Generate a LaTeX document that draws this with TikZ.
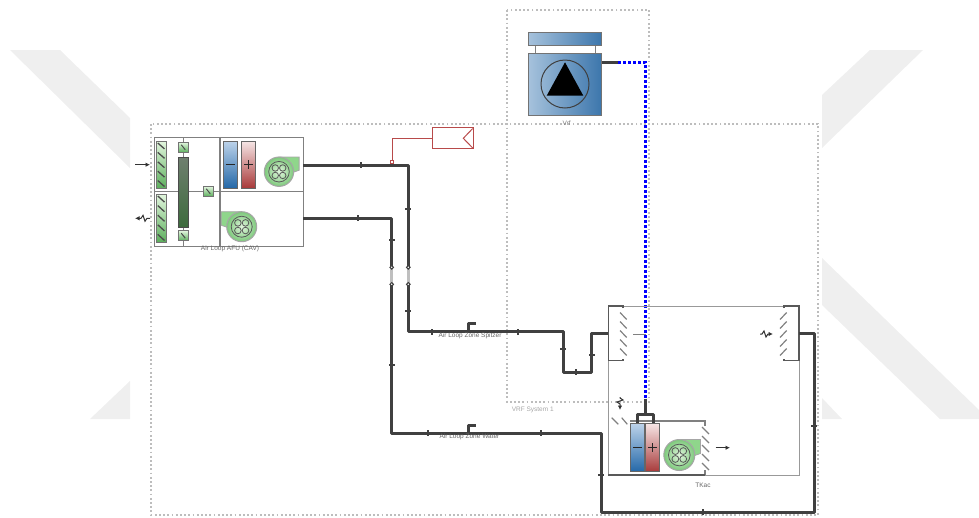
\documentclass[tikz,border=0pt]{standalone}
\usepackage{fontspec}
\setmainfont{Liberation Sans}
\usetikzlibrary{arrows.meta}
\definecolor{wm}{HTML}{EFEFEF}
\definecolor{pipecol}{HTML}{404040}
\definecolor{edgecol}{HTML}{808080}
\definecolor{redcol}{HTML}{B84A4A}
\definecolor{gLight}{HTML}{E2F6DE}
\definecolor{gMid}{HTML}{8FD68B}
\definecolor{gRim}{HTML}{7CC87A}
\definecolor{gDark}{HTML}{5DAF5D}
\definecolor{coolL}{HTML}{BDD3EA}
\definecolor{coolR}{HTML}{2468A8}
\definecolor{heatL}{HTML}{F6E6E6}
\definecolor{heatR}{HTML}{A83A3A}
\definecolor{plantL}{HTML}{A6C2DC}
\definecolor{plantR}{HTML}{3C76AC}
\definecolor{coilTop}{HTML}{6F7F6F}
\definecolor{coilBot}{HTML}{3D6B3D}
\tikzset{
  region/.style={draw=black!26,line width=1.2pt,dash pattern=on 1.8pt off 2.4pt},
  unitbox/.style={draw=edgecol,line width=1.1pt,fill=none},
  pipe/.style={draw=pipecol,line width=3pt,line join=round},
  waterpipe/.style={draw=blue,line width=3pt,dash pattern=on 3pt off 2pt},
  hash/.style={draw=edgecol,line width=1.2pt},
  greendamp/.style={draw=black!55,line width=.9pt,bottom color=gDark,top color=gLight},
  coolcoil/.style={draw=black!60,line width=1pt,top color=coolL,bottom color=coolR},
  heatcoil/.style={draw=black!60,line width=1pt,top color=heatL,bottom color=heatR},
  lab/.style={font=\fontsize{6.5}{7}\selectfont,text=black!60,inner sep=0pt},
  flowarrow/.style={draw=black!80,line width=1pt,-{Latex[length=4.5pt,width=4.5pt]}},
}
\newcommand{\fanicon}[4]{%
\begin{scope}[shift={(#1,#2)},xscale=#4]
  \fill[gMid,draw=black!35,line width=.8pt] (0,-#3) -- (1.37*#3,-#3) -- (1.37*#3,-.1*#3) -- (.8*#3,.1*#3) -- cycle;
  \shade[inner color=gLight,outer color=gRim,draw=black!35,line width=1pt] (0,0) circle (#3);
  \draw[black!65,line width=.8pt] (0,0) circle (.7*#3);
  \foreach \a in {45,135,225,315}
    \draw[black!65,line width=.8pt] (\a:.36*#3) circle (.22*#3);
\end{scope}}
\newcommand{\greendamper}[3]{%
  \shade[greendamp] (#1,#2) rectangle (#1+9.7,#3);
  \pgfmathsetmacro{\stp}{(#3-#2)/5}
  \foreach \i in {0,...,4}
    \draw[black!70,line width=1.3pt] (#1+1.5,#2+\i*\stp+2) -- (#1+8.2,#2+\i*\stp+\stp-1.5);}
\newcommand{\smalldamper}[2]{%
  \shade[greendamp] (#1-5,#2-5) rectangle (#1+5,#2+5);
  \draw[black!70,line width=1pt] (#1-2,#2-2.5) -- (#1+2,#2+2.5);}
\begin{document}
\begin{tikzpicture}[x=1pt,y=-1pt]
\useasboundingbox (0,0) rectangle (979,517);
% watermark
\fill[wm] (10,50) -- (60,50) -- (130,118) -- (130,168) -- cycle;
\fill[wm] (90,419) -- (130,381) -- (130,419) -- cycle;
\fill[wm] (870,50) -- (923,50) -- (822,148) -- (822,95) -- cycle;
\fill[wm] (822,258) -- (979,410) -- (979,419) -- (940,419) -- (822,305) -- cycle;
\fill[wm] (822,398) -- (842,419) -- (822,419) -- cycle;
% regions
\draw[region] (151,124) rectangle (818,515);
\draw[region] (507,10) rectangle (649,402);
% air handling unit
\node[unitbox,anchor=north west,minimum width=149pt,minimum height=109pt,inner sep=0pt] (afu) at (154,137) {};
\draw[unitbox] (154,191.5) -- (303,191.5);
\draw[unitbox] (220,137) -- (220,246);
\draw[unitbox] (183.3,137) -- (183.3,246);
\greendamper{156.3}{141}{188}
\greendamper{156.3}{194}{242}
\shade[top color=coilTop,bottom color=coilBot,draw=black!70,line width=.8pt] (178.7,157) rectangle (188.3,227);
\smalldamper{183.3}{147.3}
\smalldamper{183.3}{235.7}
\smalldamper{208.3}{191.3}
\shade[coolcoil] (223,141) rectangle (237,188);
\shade[heatcoil] (241.7,141) rectangle (255.7,188);
\draw[black!85,line width=1.3pt] (225.5,164.5) -- (234.5,164.5);
\draw[black!85,line width=1.3pt] (244.2,164.5) -- (253.2,164.5) (248.7,160) -- (248.7,169);
\fanicon{279}{171.7}{14.7}{1}
\fanicon{241.7}{226.7}{15}{-1}
\coordinate (inA) at (135,164.7);
\coordinate (inB) at (150,164.7);
\draw[flowarrow] (inA) -- (inB);
\coordinate (reA) at (150,218.3);
\coordinate (reB) at (135,218.3);
\draw[flowarrow] (reA) -- ++(-3,0) -- ++(-2,3) -- ++(-2,-6) -- ++(-2,3) -- (reB);
\node[lab] (afulabel) at (230,249) {Air Loop AFU (CAV)};
% plant
\shade[draw=black!55,line width=1pt,left color=plantL,right color=plantR] (528.3,32.3) rectangle (601.7,45.7);
\draw[edgecol,line width=1pt] (535,45.7) -- (535,53.3) (595,45.7) -- (595,53.3);
\shade[draw=black!55,line width=1pt,left color=plantL,right color=plantR] (528.3,53.3) rectangle (601.7,115);
\draw[black!75,line width=1pt] (565,84) circle (24);
\fill[black] (565,62.3) -- (583.3,95.7) -- (546.7,95.7) -- cycle;
\node[lab,text=black!50] (plantlabel) at (566.7,123.3) {Vrf};
\node[lab,text=black!35] (vrflabel) at (532.7,409.7) {VRF System 1};
% refrigerant line
\coordinate (plantOut) at (601.7,62);
\coordinate (plantPipe) at (618.3,62);
\coordinate (blueCorner) at (645,62);
\coordinate (blueEnd) at (645,398.5);
\coordinate (tee) at (645,414);
\draw[waterpipe] (plantPipe) -- (blueCorner) -- (blueEnd);
\draw[pipe] (plantOut) -- (plantPipe);
% zone
\node[anchor=north west,draw=edgecol!80,line width=1pt,minimum width=190.7pt,minimum height=169pt,inner sep=0pt] (zone) at (608.3,306) {};
\draw[draw=black!65,line width=1.1pt] (623,308) -- (623,306) -- (608.3,306) -- (608.3,360.7) -- (623,360.7) -- (623,359);
\draw[draw=black!65,line width=1.1pt] (784,308) -- (784,306) -- (799,306) -- (799,360.7) -- (784,360.7) -- (784,359);
\foreach \y in {312.5,321.5,330.5,339.5,348.5} {
  \draw[hash] (620,\y) -- (626.7,\y+7);
  \draw[hash] (780,\y+7) -- (786.7,\y);
}
\foreach \y in {427,436,445,454,463}
  \draw[hash] (702,\y) -- (709,\y+7);
\draw[hash] (611.7,417.7) -- (618.3,424.3);
\draw[hash] (621.7,417.7) -- (627.3,424.3);
\draw[unitbox] (630,421) -- (705,421) -- (705,426);
\draw[unitbox] (705,470) -- (705,475);
\draw[draw=black!65,line width=1.3pt] (608.3,475) -- (705,475);
\shade[coolcoil] (630.7,423.3) rectangle (644,471.7);
\shade[heatcoil] (645.7,423.3) rectangle (659,471.7);
\draw[black!85,line width=1.3pt] (633,447.5) -- (641.7,447.5);
\draw[black!85,line width=1.3pt] (648,447.5) -- (656.7,447.5) (652.3,443) -- (652.3,452);
\fanicon{679.3}{455}{15.5}{1}
\coordinate (outA) at (715.7,447.7);
\coordinate (outB) at (730,447.7);
\draw[flowarrow] (outA) -- (outB);
\coordinate (grA) at (633,334);
\coordinate (grB) at (646,334);
\draw[edgecol,line width=1pt] (grA) -- (grB);
\coordinate (wvA) at (760,334);
\coordinate (wvB) at (773,334);
\draw[flowarrow] (wvA) -- ++(2,0) -- ++(2,-3) -- ++(2,6) -- ++(2,-3) -- (wvB);
\coordinate (wuA) at (620,397);
\coordinate (wuB) at (620,410);
\draw[flowarrow] (wuA) -- ++(0,1) -- ++(3,2) -- ++(-6,2) -- ++(3,2) -- (wuB);
\node[lab] (zonelabel) at (703,485.7) {TKac};
% refrigerant connection to coils
\coordinate (coilL) at (637.3,423);
\coordinate (coilR) at (653.3,423);
\draw[pipe] (blueEnd) -- (tee);
\draw[pipe] (coilL) -- (637.3,414) -- (653.3,414) -- (coilR);
% red sensor
\node[draw=redcol,line width=1pt,anchor=north west,minimum width=41pt,minimum height=21pt,inner sep=0pt] (sensor) at (431.7,127.3) {};
\draw[redcol,line width=1pt] (472.7,128.5) -- (463.3,138.3) -- (472.7,148);
\coordinate (sensorTap) at (392,161.5);
\coordinate (sensorBend) at (392,137.8);
\draw[redcol,line width=1pt] (sensor.west) -- (sensor.west -| sensorBend) -- (sensorTap);
% air pipes
\coordinate (supStart) at (303,165);
\coordinate (supGapA) at (408.3,267.3);
\coordinate (supGapB) at (408.3,284.3);
\coordinate (zoneIn) at (608.3,333.3);
\coordinate (retStart) at (303,218);
\coordinate (retGapA) at (391.7,267.3);
\coordinate (retGapB) at (391.7,284.3);
\coordinate (zoneOut) at (799,333.3);
\draw[black!25,line width=3pt] (supGapA) -- (supGapB);
\draw[black!25,line width=3pt] (retGapA) -- (retGapB);
\draw[pipe] (supStart) -- (408.3,165) -- (supGapA);
\draw[pipe] (supGapB) -- (408.3,331.5) -- (563.3,331.5) -- (563.3,372.3) -- (591.7,372.3) -- (591.7,333.3) -- (zoneIn);
\draw[pipe] (retStart) -- (391.7,218) -- (retGapA);
\draw[pipe] (retGapB) -- (391.7,433.3) -- (601,433.3) -- (601,512) -- (814,512) -- (814,333.3) -- (zoneOut);
\draw[pipe] (468.3,331.5) -- (468.3,323.3) -- (476,323.3);
\draw[pipe] (468.3,433.3) -- (468.3,425) -- (476,425);
\foreach \p in {supGapA,supGapB,retGapA,retGapB}
  \draw[pipecol,fill=white,line width=1pt] (\p) circle (1.8);
\fill[white,draw=redcol,line width=.8pt] (390.3,160.3) rectangle (393.7,163.3);
% flow ticks on horizontal and vertical runs
\foreach \x/\y in {361/165,358/218,432/331.5,518/331.5,576/372.3,428/433.3,541/433.3,703/512}
  \fill[pipecol] (\x-1,\y-3) rectangle (\x+1,\y+3);
\foreach \x/\y in {408.3/209,391.7/240,408.3/311,391.7/365,563.3/349,591.7/355,601/475,814/426}
  \fill[pipecol] (\x-3,\y-1) rectangle (\x+3,\y+1);
% labels on pipes
\node[lab] (zlabA) at (470,335.5) {Air Loop Zone Spitzer};
\node[lab] (zlabB) at (469.5,437) {Air Loop Zone Water};
\end{tikzpicture}
\end{document}
